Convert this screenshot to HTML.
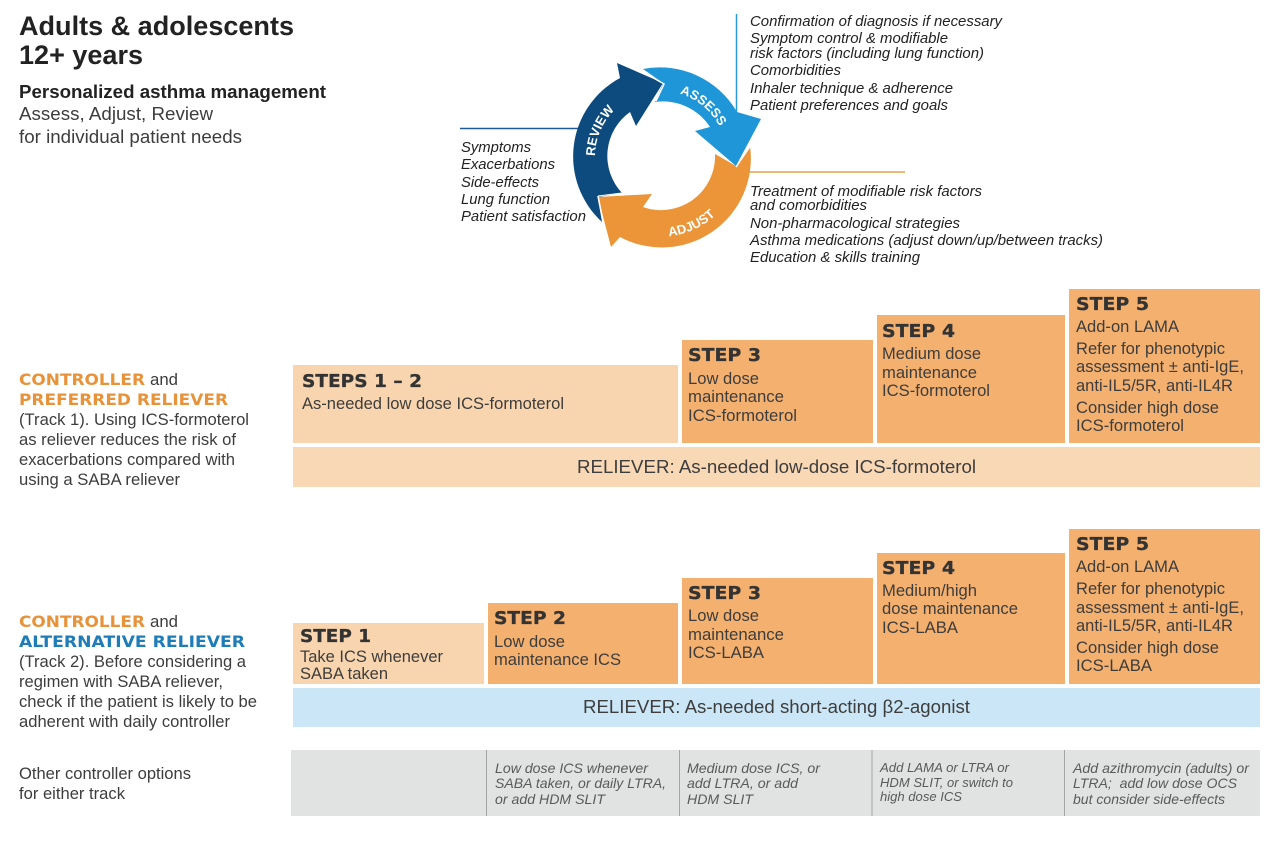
<!DOCTYPE html>
<html lang="en">
<head>
<meta charset="utf-8">
<title>Adults &amp; adolescents 12+ years</title>
<style>
html,body{margin:0;padding:0;background:#fff;}
svg{display:block;}
text{font-family:"Liberation Sans",Arial,sans-serif;fill:#3d3d3d;font-size:16.5px;}
.h{font-family:"DejaVu Sans","Liberation Sans",sans-serif;font-weight:bold;font-size:18px;fill:#333;stroke:#333;stroke-width:.3px;}
.i{font-style:italic;font-size:15px;fill:#222;}
.g{font-style:italic;font-size:14px;fill:#5a5a5a;}
.o{font-family:"DejaVu Sans","Liberation Sans",sans-serif;font-weight:bold;font-size:16px;fill:#e8923a;}
.b{font-family:"DejaVu Sans","Liberation Sans",sans-serif;font-weight:bold;font-size:16px;fill:#1e7db8;}
.c{font-weight:bold;font-size:13px;fill:#fff;}
</style>
</head>
<body>
<svg width="1280" height="860" viewBox="0 0 1280 860" xmlns="http://www.w3.org/2000/svg">
<defs>
<path id="pr" d="M595 157 A66 66 0 0 1 661 91"/>
<path id="pa" d="M661 91 A66 66 0 0 1 727 157"/>
<path id="pj" d="M645 235 A80 80 0 0 0 741 157"/>
</defs>
<!-- Title -->
<text x="19" y="35" textLength="275" lengthAdjust="spacingAndGlyphs" style="font-size:27px;font-weight:bold;fill:#222">Adults &amp; adolescents</text>
<text x="19" y="64" textLength="124" lengthAdjust="spacingAndGlyphs" style="font-size:27px;font-weight:bold;fill:#222">12+ years</text>
<text x="19" y="98" textLength="307" lengthAdjust="spacingAndGlyphs" style="font-size:18.5px;font-weight:bold;fill:#222">Personalized asthma management</text>
<text x="19" y="120" textLength="194" lengthAdjust="spacingAndGlyphs" style="font-size:18.5px">Assess, Adjust, Review</text>
<text x="19" y="143" textLength="223" lengthAdjust="spacingAndGlyphs" style="font-size:18.5px">for individual patient needs</text>

<!-- Connector lines -->
<line x1="736.5" y1="14" x2="736.5" y2="114" stroke="#2a9ad6" stroke-width="1.5"/>
<line x1="460" y1="128.5" x2="582" y2="128.5" stroke="#1d5a94" stroke-width="1.5"/>
<line x1="748" y1="172" x2="905" y2="172" stroke="#e8a24a" stroke-width="1.5"/>

<!-- Cycle -->
<path d="M643 69 A89 89 0 0 1 737 112 L761 119 L736 166 L695 131 L710 127 A56 56 0 0 0 655 102 L663 83 Z" fill="#1e96d8"/>
<path d="M617 63 L663 83 L636 126 L630 112 A54 54 0 0 0 622 193 L598 197 L602 222 A89 89 0 0 1 620 78 Z" fill="#0d4a7d"/>
<path d="M750 146 A89 89 0 0 1 620 237 L611 247 L598 197 L652 194 L643 207 A54 54 0 0 0 715 154 L736 166 Z" fill="#ec9438"/>
<path d="M643 72 L664 84 L656 101" fill="none" stroke="#fff" stroke-width="1.5"/>
<path d="M598 196 L603 222" fill="none" stroke="#fff" stroke-width="1.6"/>
<path d="M598 196 L622 193" fill="none" stroke="#fff" stroke-width="1"/>
<path d="M736 167 L751 145" fill="none" stroke="#fff" stroke-width="1.5"/>
<text class="c"><textPath href="#pr" startOffset="1">REVIEW</textPath></text>
<text class="c"><textPath href="#pa" startOffset="19">ASSESS</textPath></text>
<text class="c"><textPath href="#pj" startOffset="24">ADJUST</textPath></text>

<!-- Cycle text -->
<text class="i" x="750" y="26" textLength="252" lengthAdjust="spacingAndGlyphs">Confirmation of diagnosis if necessary</text>
<text class="i" x="750" y="43" textLength="198" lengthAdjust="spacingAndGlyphs">Symptom control &amp; modifiable</text>
<text class="i" x="750" y="58" textLength="234" lengthAdjust="spacingAndGlyphs">risk factors (including lung function)</text>
<text class="i" x="750" y="75" textLength="91" lengthAdjust="spacingAndGlyphs">Comorbidities</text>
<text class="i" x="750" y="93" textLength="203" lengthAdjust="spacingAndGlyphs">Inhaler technique &amp; adherence</text>
<text class="i" x="750" y="110" textLength="198" lengthAdjust="spacingAndGlyphs">Patient preferences and goals</text>
<text class="i" x="750" y="196" textLength="232" lengthAdjust="spacingAndGlyphs">Treatment of modifiable risk factors</text>
<text class="i" x="750" y="210" textLength="117" lengthAdjust="spacingAndGlyphs">and comorbidities</text>
<text class="i" x="750" y="228" textLength="210" lengthAdjust="spacingAndGlyphs">Non-pharmacological strategies</text>
<text class="i" x="750" y="245" textLength="353" lengthAdjust="spacingAndGlyphs">Asthma medications (adjust down/up/between tracks)</text>
<text class="i" x="750" y="262" textLength="170" lengthAdjust="spacingAndGlyphs">Education &amp; skills training</text>
<text class="i" x="461" y="152" textLength="70" lengthAdjust="spacingAndGlyphs">Symptoms</text>
<text class="i" x="461" y="169" textLength="94" lengthAdjust="spacingAndGlyphs">Exacerbations</text>
<text class="i" x="461" y="187" textLength="78" lengthAdjust="spacingAndGlyphs">Side-effects</text>
<text class="i" x="461" y="204" textLength="89" lengthAdjust="spacingAndGlyphs">Lung function</text>
<text class="i" x="461" y="221" textLength="125" lengthAdjust="spacingAndGlyphs">Patient satisfaction</text>

<!-- Track 1 boxes -->
<rect x="293" y="365" width="385" height="78" fill="#f8d5ae"/>
<rect x="682" y="340" width="191" height="103" fill="#f4b06f"/>
<rect x="877" y="315" width="188" height="128" fill="#f4b06f"/>
<rect x="1069" y="289" width="191" height="154" fill="#f4b06f"/>
<rect x="293" y="447" width="967" height="40" fill="#f9d8b5"/>

<text class="h" x="302" y="387" textLength="120" lengthAdjust="spacingAndGlyphs">STEPS 1 – 2</text>
<text x="302" y="409" textLength="262" lengthAdjust="spacingAndGlyphs">As-needed low dose ICS-formoterol</text>
<text class="h" x="688" y="361" textLength="73" lengthAdjust="spacingAndGlyphs">STEP 3</text>
<text x="688" y="384" textLength="71" lengthAdjust="spacingAndGlyphs">Low dose</text>
<text x="688" y="402" textLength="96" lengthAdjust="spacingAndGlyphs">maintenance</text>
<text x="688" y="421" textLength="109" lengthAdjust="spacingAndGlyphs">ICS-formoterol</text>
<text class="h" x="882" y="337" textLength="73" lengthAdjust="spacingAndGlyphs">STEP 4</text>
<text x="882" y="359" textLength="99" lengthAdjust="spacingAndGlyphs">Medium dose</text>
<text x="882" y="378" textLength="95" lengthAdjust="spacingAndGlyphs">maintenance</text>
<text x="882" y="396" textLength="108" lengthAdjust="spacingAndGlyphs">ICS-formoterol</text>
<text class="h" x="1076" y="310" textLength="73" lengthAdjust="spacingAndGlyphs">STEP 5</text>
<text x="1076" y="332" textLength="103" lengthAdjust="spacingAndGlyphs">Add-on LAMA</text>
<text x="1076" y="354" textLength="149" lengthAdjust="spacingAndGlyphs">Refer for phenotypic</text>
<text x="1076" y="372" textLength="168" lengthAdjust="spacingAndGlyphs">assessment ± anti-IgE,</text>
<text x="1076" y="391" textLength="157" lengthAdjust="spacingAndGlyphs">anti-IL5/5R, anti-IL4R</text>
<text x="1076" y="413" textLength="143" lengthAdjust="spacingAndGlyphs">Consider high dose</text>
<text x="1076" y="431" textLength="108" lengthAdjust="spacingAndGlyphs">ICS-formoterol</text>
<text x="577" y="473" textLength="399" lengthAdjust="spacingAndGlyphs" style="font-size:18.5px">RELIEVER: As-needed low-dose ICS-formoterol</text>

<!-- Track 2 boxes -->
<rect x="293" y="623" width="191" height="61" fill="#f8d5ae"/>
<rect x="488" y="603" width="190" height="81" fill="#f4b06f"/>
<rect x="682" y="578" width="191" height="106" fill="#f4b06f"/>
<rect x="877" y="553" width="188" height="131" fill="#f4b06f"/>
<rect x="1069" y="529" width="191" height="155" fill="#f4b06f"/>
<rect x="293" y="688" width="967" height="39" fill="#cbe6f6"/>

<text class="h" x="300" y="642" textLength="71" lengthAdjust="spacingAndGlyphs">STEP 1</text>
<text x="300" y="662" textLength="143" lengthAdjust="spacingAndGlyphs">Take ICS whenever</text>
<text x="300" y="679" textLength="88" lengthAdjust="spacingAndGlyphs">SABA taken</text>
<text class="h" x="494" y="624" textLength="72" lengthAdjust="spacingAndGlyphs">STEP 2</text>
<text x="494" y="647" textLength="71" lengthAdjust="spacingAndGlyphs">Low dose</text>
<text x="494" y="665" textLength="127" lengthAdjust="spacingAndGlyphs">maintenance ICS</text>
<text class="h" x="688" y="599" textLength="73" lengthAdjust="spacingAndGlyphs">STEP 3</text>
<text x="688" y="621" textLength="71" lengthAdjust="spacingAndGlyphs">Low dose</text>
<text x="688" y="640" textLength="96" lengthAdjust="spacingAndGlyphs">maintenance</text>
<text x="688" y="658" textLength="76" lengthAdjust="spacingAndGlyphs">ICS-LABA</text>
<text class="h" x="882" y="574" textLength="73" lengthAdjust="spacingAndGlyphs">STEP 4</text>
<text x="882" y="596" textLength="95" lengthAdjust="spacingAndGlyphs">Medium/high</text>
<text x="882" y="614" textLength="136" lengthAdjust="spacingAndGlyphs">dose maintenance</text>
<text x="882" y="633" textLength="76" lengthAdjust="spacingAndGlyphs">ICS-LABA</text>
<text class="h" x="1076" y="550" textLength="73" lengthAdjust="spacingAndGlyphs">STEP 5</text>
<text x="1076" y="572" textLength="103" lengthAdjust="spacingAndGlyphs">Add-on LAMA</text>
<text x="1076" y="594" textLength="149" lengthAdjust="spacingAndGlyphs">Refer for phenotypic</text>
<text x="1076" y="613" textLength="168" lengthAdjust="spacingAndGlyphs">assessment ± anti-IgE,</text>
<text x="1076" y="631" textLength="157" lengthAdjust="spacingAndGlyphs">anti-IL5/5R, anti-IL4R</text>
<text x="1076" y="653" textLength="143" lengthAdjust="spacingAndGlyphs">Consider high dose</text>
<text x="1076" y="671" textLength="76" lengthAdjust="spacingAndGlyphs">ICS-LABA</text>
<text x="583" y="713" textLength="387" lengthAdjust="spacingAndGlyphs" style="font-size:18.5px">RELIEVER: As-needed short-acting β2-agonist</text>

<!-- Other options row -->
<rect x="291" y="750" width="969" height="66" fill="#e1e2e2"/>
<g stroke="#a3a5a5" stroke-width="1">
<line x1="486.5" y1="750" x2="486.5" y2="816"/>
<line x1="679.5" y1="750" x2="679.5" y2="816"/>
<line x1="872" y1="750" x2="872" y2="816"/>
<line x1="1064.5" y1="750" x2="1064.5" y2="816"/>
</g>
<text class="g" x="495" y="773" textLength="153" lengthAdjust="spacingAndGlyphs">Low dose ICS whenever</text>
<text class="g" x="495" y="788" textLength="171" lengthAdjust="spacingAndGlyphs">SABA taken, or daily LTRA,</text>
<text class="g" x="495" y="804" textLength="110" lengthAdjust="spacingAndGlyphs">or add HDM SLIT</text>
<text class="g" x="687" y="773" textLength="133" lengthAdjust="spacingAndGlyphs">Medium dose ICS, or</text>
<text class="g" x="687" y="788" textLength="111" lengthAdjust="spacingAndGlyphs">add LTRA, or add</text>
<text class="g" x="687" y="804" textLength="66" lengthAdjust="spacingAndGlyphs">HDM SLIT</text>
<text class="g" x="880" y="772" textLength="129" lengthAdjust="spacingAndGlyphs" style="font-size:13px">Add LAMA or LTRA or</text>
<text class="g" x="880" y="787" textLength="133" lengthAdjust="spacingAndGlyphs" style="font-size:13px">HDM SLIT, or switch to</text>
<text class="g" x="880" y="801" textLength="82" lengthAdjust="spacingAndGlyphs" style="font-size:13px">high dose ICS</text>
<text class="g" x="1073" y="773" textLength="176" lengthAdjust="spacingAndGlyphs">Add azithromycin (adults) or</text>
<text class="g" x="1073" y="788" textLength="164" lengthAdjust="spacingAndGlyphs" xml:space="preserve">LTRA;  add low dose OCS</text>
<text class="g" x="1073" y="804" textLength="152" lengthAdjust="spacingAndGlyphs">but consider side-effects</text>

<!-- Left labels -->
<text class="o" x="19" y="385" textLength="126" lengthAdjust="spacingAndGlyphs">CONTROLLER</text>
<text x="150" y="385" textLength="28" lengthAdjust="spacingAndGlyphs">and</text>
<text class="o" x="19" y="405" textLength="209" lengthAdjust="spacingAndGlyphs">PREFERRED RELIEVER</text>
<text x="19" y="425" textLength="230" lengthAdjust="spacingAndGlyphs">(Track 1). Using ICS-formoterol</text>
<text x="19" y="445" textLength="217" lengthAdjust="spacingAndGlyphs">as reliever reduces the risk of</text>
<text x="19" y="465" textLength="216" lengthAdjust="spacingAndGlyphs">exacerbations compared with</text>
<text x="19" y="485" textLength="161" lengthAdjust="spacingAndGlyphs">using a SABA reliever</text>
<text class="o" x="19" y="627" textLength="126" lengthAdjust="spacingAndGlyphs">CONTROLLER</text>
<text x="150" y="627" textLength="28" lengthAdjust="spacingAndGlyphs">and</text>
<text class="b" x="19" y="647" textLength="226" lengthAdjust="spacingAndGlyphs">ALTERNATIVE RELIEVER</text>
<text x="19" y="667" textLength="227" lengthAdjust="spacingAndGlyphs">(Track 2). Before considering a</text>
<text x="19" y="687" textLength="204" lengthAdjust="spacingAndGlyphs">regimen with SABA reliever,</text>
<text x="19" y="707" textLength="238" lengthAdjust="spacingAndGlyphs">check if the patient is likely to be</text>
<text x="19" y="727" textLength="211" lengthAdjust="spacingAndGlyphs">adherent with daily controller</text>
<text x="19" y="779" textLength="172" lengthAdjust="spacingAndGlyphs">Other controller options</text>
<text x="19" y="799" textLength="106" lengthAdjust="spacingAndGlyphs">for either track</text>
</svg>
</body>
</html>
